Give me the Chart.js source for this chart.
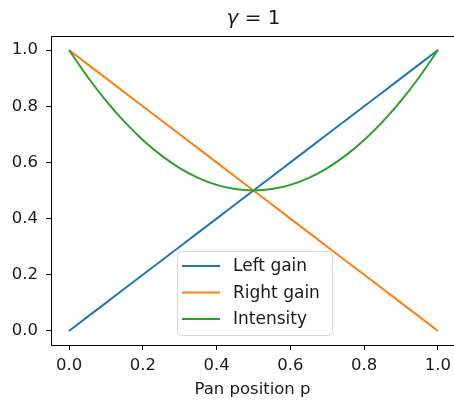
<!DOCTYPE html>
<html>
<head>
<meta charset="utf-8">
<script src="https://cdn.jsdelivr.net/npm/chart.js@4.4.0/dist/chart.umd.min.js"></script>
<style>
  html, body { margin: 0; padding: 0; background: #fff; overflow: hidden; }
  canvas { display: block; }
</style>
</head>
<body>
<canvas id="chart" width="454" height="404"></canvas>
<script>
// pan positions and values
const panPos = [0, 0.05, 0.1, 0.15, 0.2, 0.25, 0.3, 0.35, 0.4, 0.45, 0.5, 0.55, 0.6, 0.65, 0.7, 0.75, 0.8, 0.85, 0.9, 0.95, 1];
const leftGain = [0, 0.05, 0.1, 0.15, 0.2, 0.25, 0.3, 0.35, 0.4, 0.45, 0.5, 0.55, 0.6, 0.65, 0.7, 0.75, 0.8, 0.85, 0.9, 0.95, 1];
const rightGain = [1, 0.95, 0.9, 0.85, 0.8, 0.75, 0.7, 0.65, 0.6, 0.55, 0.5, 0.45, 0.4, 0.35, 0.3, 0.25, 0.2, 0.15, 0.1, 0.05, 0];
const intensity = [1, 0.905, 0.82, 0.745, 0.68, 0.625, 0.58, 0.545, 0.52, 0.505, 0.5, 0.505, 0.52, 0.545, 0.58, 0.625, 0.68, 0.745, 0.82, 0.905, 1];
const xTicks = [0, 0.2, 0.4, 0.6, 0.8, 1.0];
const yTicks = [0, 0.2, 0.4, 0.6, 0.8, 1.0];

const FONT = 'DejaVu Sans';
const TXT = '#1a1a1a';

function pts(ys) {
    return panPos.map((x, i) => ({ x: x, y: ys[i] }));
}

// top spine + title + legend box in matplotlib style
const mplExtras = {
    id: 'mplExtras',
    afterDraw(chart) {
        const ctx = chart.ctx;
        const a = chart.chartArea;
        ctx.save();
        ctx.strokeStyle = '#000';
        ctx.lineWidth = 1;
        ctx.beginPath();
        ctx.moveTo(a.left, a.top + 0.5);
        ctx.lineTo(a.right, a.top + 0.5);
        ctx.stroke();

        // title, centred over the full (uncropped) axes
        const cx = 253.5;
        ctx.fillStyle = TXT;
        ctx.textBaseline = 'middle';
        ctx.textAlign = 'left';
        const g = 'γ', rest = ' = 1';
        ctx.font = '20px ' + FONT;
        const wRest = ctx.measureText(rest).width;
        ctx.font = 'italic 20px ' + FONT;
        const wG = ctx.measureText(g).width;
        const x0 = cx - (wG + wRest) / 2;
        ctx.fillText(g, x0, 19);
        ctx.font = '20px ' + FONT;
        ctx.fillText(rest, x0 + wG, 19);

        // legend
        const bx = 177, by = 251, bw = 155, bh = 84, r = 4;
        ctx.fillStyle = 'rgba(255,255,255,0.8)';
        ctx.strokeStyle = '#d8d8d8';
        ctx.beginPath();
        ctx.roundRect(bx + 0.5, by + 0.5, bw, bh, r);
        ctx.fill();
        ctx.stroke();
        ctx.font = '17px ' + FONT;
        ctx.textBaseline = 'middle';
        chart.data.datasets.forEach((ds, i) => {
            const y = 266 + i * 26.5;
            ctx.strokeStyle = ds.borderColor;
            ctx.lineWidth = 2;
            ctx.beginPath();
            ctx.moveTo(182, y);
            ctx.lineTo(220, y);
            ctx.stroke();
            ctx.fillStyle = TXT;
            ctx.fillText(ds.label, 233, y + 1);
        });
        ctx.restore();
    }
};

const ctx = document.getElementById('chart').getContext('2d');
const chart = new Chart(ctx, {
    type: 'line',
    data: {
        datasets: [{
            label: 'Left gain',
            data: pts(leftGain),
            borderColor: '#1f77b4',
            order: 3
        }, {
            label: 'Right gain',
            data: pts(rightGain),
            borderColor: '#ff7f0e',
            order: 2
        }, {
            label: 'Intensity',
            data: pts(intensity),
            borderColor: '#2ca02c',
            cubicInterpolationMode: 'monotone',
            order: 1
        }]
    },
    options: {
        responsive: false,
        animation: false,
        layout: { padding: { top: 36, right: 0, left: 0, bottom: 0 } },
        elements: {
            point: { radius: 0 },
            line: { borderWidth: 2, fill: false }
        },
        plugins: {
            legend: { display: false },
            title: { display: false },
            tooltip: { enabled: false }
        },
        scales: {
            x: {
                type: 'linear',
                min: -0.0488,
                max: 1.0434,
                afterBuildTicks: s => { s.ticks = xTicks.map(v => ({ value: v })); },
                afterFit: s => { s.height = 59; s.paddingRight = 0; s.paddingLeft = 0; },
                grid: { drawOnChartArea: false, drawTicks: true, tickLength: 5, color: '#000' },
                border: { display: true, color: '#000', width: 1 },
                ticks: {
                    color: TXT,
                    font: { family: FONT, size: 16.5 },
                    padding: 6,
                    maxRotation: 0,
                    callback: v => v.toFixed(1)
                },
                title: {
                    display: true,
                    text: 'Pan position p',
                    color: TXT,
                    font: { family: FONT, size: 16.5 },
                    padding: { top: 2, bottom: 4 }
                }
            },
            y: {
                type: 'linear',
                min: -0.05,
                max: 1.05,
                afterBuildTicks: s => { s.ticks = yTicks.map(v => ({ value: v })); },
                afterFit: s => { s.width = 51; },
                grid: { drawOnChartArea: false, drawTicks: true, tickLength: 5, color: '#000' },
                border: { display: true, color: '#000', width: 1 },
                ticks: {
                    color: TXT,
                    font: { family: FONT, size: 16.5 },
                    padding: 8,
                    callback: v => v.toFixed(1)
                }
            }
        }
    },
    plugins: [mplExtras]
});
</script>
</body>
</html>
